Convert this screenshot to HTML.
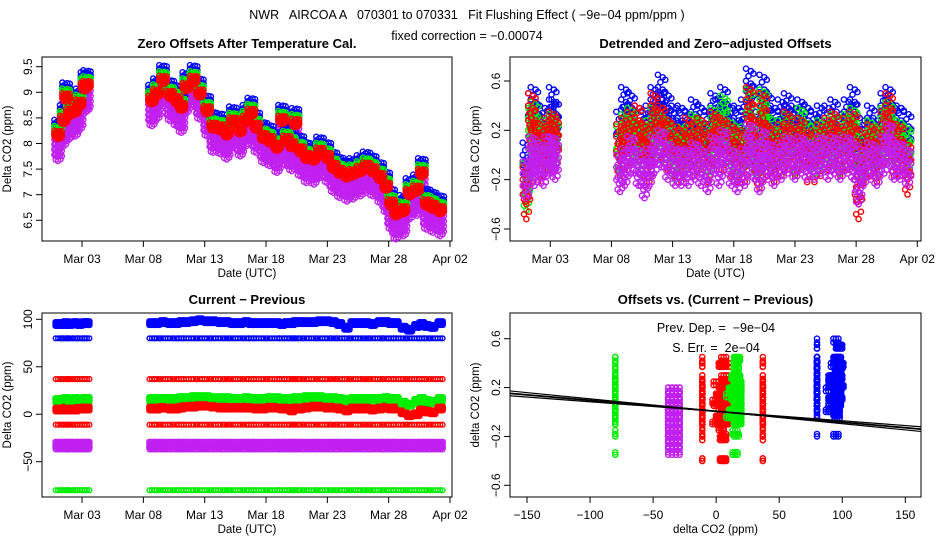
<!DOCTYPE html>
<html><head><meta charset="utf-8"><style>
html,body{margin:0;padding:0;background:#fff;}
svg{display:block;font-family:"Liberation Sans",sans-serif;}
text{white-space:pre;}
</style></head><body>
<svg id="c" width="936" height="540" viewBox="0 0 936 540" xmlns="http://www.w3.org/2000/svg">
<text x="467" y="19" font-size="12.5" text-anchor="middle" xml:space="preserve">NWR   AIRCOA A   070301 to 070331   Fit Flushing Effect ( −9e−04 ppm/ppm )</text>
<text x="467" y="40" font-size="12.5" text-anchor="middle">fixed correction = −0.00074</text>
</svg>
<script>
// time in days since Mar 01 00:00 UTC
const T=[0.05,0.5,0.7,1.0,1.45,1.8,2.2,2.4,7.7,8.1,8.6,9.2,9.7,10.1,10.5,11.1,11.6,12.2,12.7,13.3,13.8,14.3,14.9,15.4,15.8,16.2,16.8,17.3,17.9,18.3,18.7,19.1,19.4,19.8,20.3,20.9,21.4,22.0,22.5,23.0,23.6,24.1,24.7,25.2,25.7,26.3,26.8,27.2,27.6,28.2,28.7,29.3,29.7,30.1,30.6,31.2];
// zero offsets (red channel) ppm
const redTL=[8.17,8.46,8.9,8.6,8.65,8.78,9.1,9.14,8.85,8.98,9.24,8.95,8.85,8.72,9.1,9.24,8.98,8.65,8.33,8.3,8.2,8.43,8.26,8.46,8.6,8.33,8.13,8.07,7.94,8.46,8.07,7.97,8.4,7.87,7.74,7.71,7.84,7.74,7.55,7.45,7.38,7.42,7.48,7.55,7.48,7.35,7.16,6.83,6.64,6.7,7.03,7.1,7.42,6.83,6.77,6.7];
const seriesOffsetTL={blue:0.16,green:0.07,red:0,purple:-0.25};
// detrended offsets per series
const dtBlue=[-0.1,0.3,0.35,0.15,0.2,0.1,0.35,0.25,0.15,0.35,0.3,0.2,0.15,0.2,0.35,0.45,0.3,0.2,0.2,0.15,0.25,0.2,0.15,0.3,0.25,0.35,0.2,0.2,0.25,0.5,0.1,0.15,0.45,0.3,0.2,0.25,0.3,0.2,0.25,0.2,0.15,0.2,0.2,0.25,0.15,0.25,0.35,0.05,0.1,0.2,0.1,0.3,0.35,0.2,0.2,0.15];
const dtGreen=[-0.25,0.2,0.25,0.1,0.05,0.1,0.15,0.1,0.05,0.15,0.2,0.1,0.05,0.1,0.2,0.15,0.1,0.0,0.05,0.05,0.15,0.1,0.0,0.2,0.15,0.3,0.1,0.0,0.05,0.35,0.05,0.0,0.35,0.15,0.05,0.1,0.15,0.05,0.2,0.1,0.05,0.1,0.1,0.15,0.05,0.15,0.2,-0.1,0.0,0.1,0.05,0.2,0.25,0.1,0.1,0.05];
const dtRed=[-0.3,0.3,0.1,0.0,0.05,0.1,0.15,0.1,0.05,0.1,0.15,0.2,0.05,0.0,0.3,0.2,0.1,0.05,0.0,0.1,0.05,0.1,0.0,0.15,0.1,0.1,0.05,0.0,0.0,0.35,0.1,-0.05,0.3,0.05,0.0,0.05,0.15,0.05,0.1,0.0,0.0,0.05,0.1,0.15,0.05,0.1,0.15,-0.3,0.0,0.05,0.0,0.15,0.3,0.05,0.05,-0.1];
const dtPurple=[-0.2,0.0,-0.1,-0.05,-0.1,0.0,0.0,-0.05,-0.15,-0.1,0.0,-0.1,-0.2,-0.1,0.0,0.05,-0.05,-0.1,-0.1,-0.1,-0.05,-0.1,-0.15,0.0,-0.1,0.05,-0.1,-0.15,-0.1,0.1,-0.05,-0.15,0.05,-0.05,-0.1,-0.05,0.0,-0.05,0.0,-0.05,-0.05,0.0,-0.05,0.0,-0.05,0.0,-0.05,-0.25,-0.1,-0.05,-0.1,0.0,0.1,-0.05,-0.05,-0.1];
// current - previous band levels (ppm)
const blueTop=[95,95,96,95,96,95,96,96,96,96,97,96,96,97,97,98,99,98,98,97,97,96,96,97,96,96,96,96,96,95,96,96,97,97,97,97,98,98,97,95,91,96,96,96,95,97,97,96,96,91,89,93,95,93,92,96];
const redMid=[5,5,6,5,5,6,6,6,6,6,7,6,6,7,8,8,9,9,8,7,7,7,7,7,7,6,6,7,7,6,6,4,6,6,7,8,8,7,7,6,4,6,6,6,5,6,7,6,6,2,-1,0,4,3,2,6];
const greenMid=[15,15,16,15,16,15,16,16,16,16,16,16,16,17,17,18,18,18,17,17,17,16,16,17,16,16,16,17,17,16,16,16,17,17,18,18,18,17,17,16,15,16,16,16,16,16,17,16,16,12,10,14,16,14,13,16];
const bandBlueLow=80, bandRedHigh=37, bandGreenLow=11, bandRedLow=-11, bandPurple=-32, bandPurpleLow=-37, bandGreenBottom=-80;
// regression line
const fitSlope=-9e-4, fitIntercept=0.005, fitSE=2e-4;
const dayTicks=[2,7,12,17,22,27,32];
const dayTickLabels=["Mar 03","Mar 08","Mar 13","Mar 18","Mar 23","Mar 28","Apr 02"];
const tlYTicks=[6.5,7.0,7.5,8.0,8.5,9.0,9.5];
const trYTicks=[-0.6,-0.2,0.2,0.6];
const blYTicks=[-50,0,50,100];
const brXTicks=[-150,-100,-50,0,50,100,150];

const COL={blue:"#0000ff",green:"#00ee00",red:"#ff0000",purple:"#c020f0"};
const NS="http://www.w3.org/2000/svg";
const svg=document.getElementById('c');
const DX=[-0.3,-0.2,-0.1,0,0.1,0.2,0.3];
const STAG=[0.05,-0.03,0.02,-0.05,0.04,-0.02,0.03];
function mk(tag,attrs,parent){const e=document.createElementNS(NS,tag);for(const k in attrs)e.setAttribute(k,attrs[k]);(parent||svg).appendChild(e);return e;}
function lin(d0,d1,r0,r1){return v=>r0+(v-d0)*(r1-r0)/(d1-d0);}

function panel(name,title,box,xs,ys,xt,xtl,yt,xlab,ylab){
  const g=mk('g',{});
  
  
  const t=mk('text',{x:(box.x0+box.x1)/2,y:box.y0-9,'font-size':13,'font-weight':'bold','text-anchor':'middle'},g);
  t.textContent=title;
  
  
  const r=mk('rect',{x:box.x0,y:box.y0,width:box.x1-box.x0,height:box.y1-box.y0,fill:'none',stroke:'#000','stroke-width':1},g);
  
  
  const xa=mk('g',{},g);
  
  
  mk('line',{x1:xs(xt[0]),x2:xs(xt[xt.length-1]),y1:box.y1,y2:box.y1,stroke:'#000'},xa);
  xt.forEach((v,i)=>{const x=xs(v);mk('line',{x1:x,x2:x,y1:box.y1,y2:box.y1+6,stroke:'#000'},xa);
    const tx=mk('text',{x:x,y:box.y1+22,'font-size':12,'text-anchor':'middle'},xa);tx.textContent=xtl[i];
    
    });
  const ya=mk('g',{},g);
  
  
  mk('line',{x1:box.x0,x2:box.x0,y1:ys(yt[0]),y2:ys(yt[yt.length-1]),stroke:'#000'},ya);
  yt.forEach(v=>{const y=ys(v);mk('line',{x1:box.x0-6,x2:box.x0,y1:y,y2:y,stroke:'#000'},ya);
    const tx=mk('text',{x:box.x0-10,y:y,'font-size':12,'text-anchor':'middle',transform:`rotate(-90 ${box.x0-10} ${y})`},ya);
    tx.textContent=String(v).replace('-','−');
    
    });
  const xl=mk('text',{x:(box.x0+box.x1)/2,y:box.y1+36,'font-size':11.5,'text-anchor':'middle'},g);xl.textContent=xlab;
  
  
  const cy=(box.y0+box.y1)/2;
  const yl=mk('text',{x:box.x0-31,y:cy,'font-size':11.5,'text-anchor':'middle',transform:`rotate(-90 ${box.x0-31} ${cy})`},g);yl.textContent=ylab;
  
  
  const pts=mk('g',{fill:'none','stroke-width':1.4},g);
  
  
  return pts;
}
function pt(g,x,y,c,r){mk('circle',{cx:x.toFixed(1),cy:y.toFixed(1),r:r||2.6,stroke:c},g);}

// ---- top-left
{
 const box={x0:42,x1:452,y0:57,y1:241};
 const xs=lin(0,32,57.5,450), ys=lin(6.5,9.5,220.3,66.7);
 const g=panel('zero-offsets-panel','Zero Offsets After Temperature Cal.',box,xs,ys,dayTicks,dayTickLabels,tlYTicks,'Date (UTC)','Delta CO2 (ppm)');
 const layers=[['purple',[-0.2,-0.1,0,0.1,0.2]],['blue',[-0.05,0,0.07]],['green',[-0.04,0,0.04]],['red',[-0.05,0,0.05]]];
 layers.forEach(([s,dys])=>{T.forEach((t,i)=>{DX.forEach((dx,k)=>{dys.forEach(dy=>{
   pt(g,xs(t+dx),ys(redTL[i]+seriesOffsetTL[s]+dy+STAG[k]*(s==='red'?0.6:1.2)),COL[s]);});});});});
}
// ---- top-right
{
 const box={x0:510,x1:921,y0:57,y1:241};
 const xs=lin(0,32,525.8,917.3), ys=lin(-0.6,0.6,229,81);
 const g=panel('detrended-panel','Detrended and Zero−adjusted Offsets',box,xs,ys,dayTicks,dayTickLabels,trYTicks,'Date (UTC)','Delta CO2 (ppm)');
 const S={blue:dtBlue,green:dtGreen,red:dtRed,purple:dtPurple};
 [['blue',[-0.08,0,0.1]],['green',[-0.1,0,0.08]],['red',[-0.12,0,0.1]],['purple',[-0.1,0,0.1]]].forEach(([s,dys])=>{
   T.forEach((t,i)=>{DX.forEach((dx,k)=>{dys.forEach(dy=>{pt(g,xs(t+dx),ys(S[s][i]+dy+STAG[k]*(s==='purple'?1:2)),COL[s]);});});});});
}
// ---- bottom-left
{
 const box={x0:42,x1:452,y0:313,y1:497};
 const xs=lin(0,32,57.5,450), ys=lin(-50,100,461.7,319.3);
 const g=panel('current-previous-panel','Current − Previous',box,xs,ys,dayTicks,dayTickLabels,blYTicks,'Date (UTC)','Delta CO2 (ppm)');
 const flat=[[bandBlueLow,'blue'],[bandRedHigh,'red'],[bandGreenLow,'green'],[bandRedLow,'red'],[bandPurpleLow,'purple'],[bandGreenBottom,'green']];
 flat.forEach(([lv,s])=>{T.forEach(t=>{[-0.2,0,0.2].forEach(dx=>pt(g,xs(t+dx),ys(lv),COL[s],2.4));});});
 T.forEach((t,i)=>{[-0.22,-0.11,0,0.11,0.22].forEach(dx=>{
   [-2,0,2].forEach(dy=>{pt(g,xs(t+dx),ys(blueTop[i]+dy),COL.blue,2.4);
     pt(g,xs(t+dx),ys(greenMid[i]+dy),COL.green,2.4);
     pt(g,xs(t+dx),ys(redMid[i]+dy),COL.red,2.4);});
   [-3,0,3].forEach(dy=>pt(g,xs(t+dx),ys(bandPurple+dy),COL.purple,2.4));
 });});
}
// ---- bottom-right
{
 const box={x0:510,x1:921,y0:313,y1:497};
 const xs=lin(-150,150,527,905.3), ys=lin(-0.6,0.6,485.3,338.7);
 const g=panel('offsets-vs-diff-panel','Offsets vs. (Current − Previous)',box,xs,ys,brXTicks,brXTicks.map(v=>String(v).replace('-','−')),trYTicks,'delta CO2 (ppm)','delta CO2 (ppm)');
 const groups=[
  [bandGreenBottom,dtGreen,'green',[0]],[bandPurple,dtPurple,'purple',[-6,-3,0,3]],[bandRedLow,dtRed,'red',[0]],
  [null,dtRed,'red',[-2,0,2]],[null,dtGreen,'green',[-2,0,2]],[bandRedHigh,dtRed,'red',[0]],[bandBlueLow,dtBlue,'blue',[0]],[null,dtBlue,'blue',[-2,0,2]]];
 const vary=[null,null,null,redMid,greenMid,null,null,blueTop];
 groups.forEach(([xv,arr,s,dxs],gi)=>{T.forEach((t,i)=>{const x0=xv===null?vary[gi][i]:xv;
   [-0.15,-0.05,0.05,0.15].forEach((dy,k)=>dxs.forEach(dx=>pt(g,xs(x0+dx),ys(arr[i]+dy+STAG[k]),COL[s])));});});
 const fl=mk('g',{},svg);
 
 
 [[0,1.8],[fitSE*0.6,1.2],[-fitSE*0.6,1.2]].forEach(([d,w])=>{
   const s=fitSlope+d;
   mk('line',{x1:box.x0,x2:box.x1,y1:ys(fitIntercept+s*-164),y2:ys(fitIntercept+s*161),stroke:'#000','stroke-width':w},fl);});
 const t1=mk('text',{x:716,y:332,'font-size':12.5,'text-anchor':'middle'});t1.textContent='Prev. Dep. =  −9e−04';
 
 
 const t2=mk('text',{x:716,y:352,'font-size':12.5,'text-anchor':'middle'});t2.textContent='S. Err. =  2e−04';
 
 
}
</script>
</body></html>
